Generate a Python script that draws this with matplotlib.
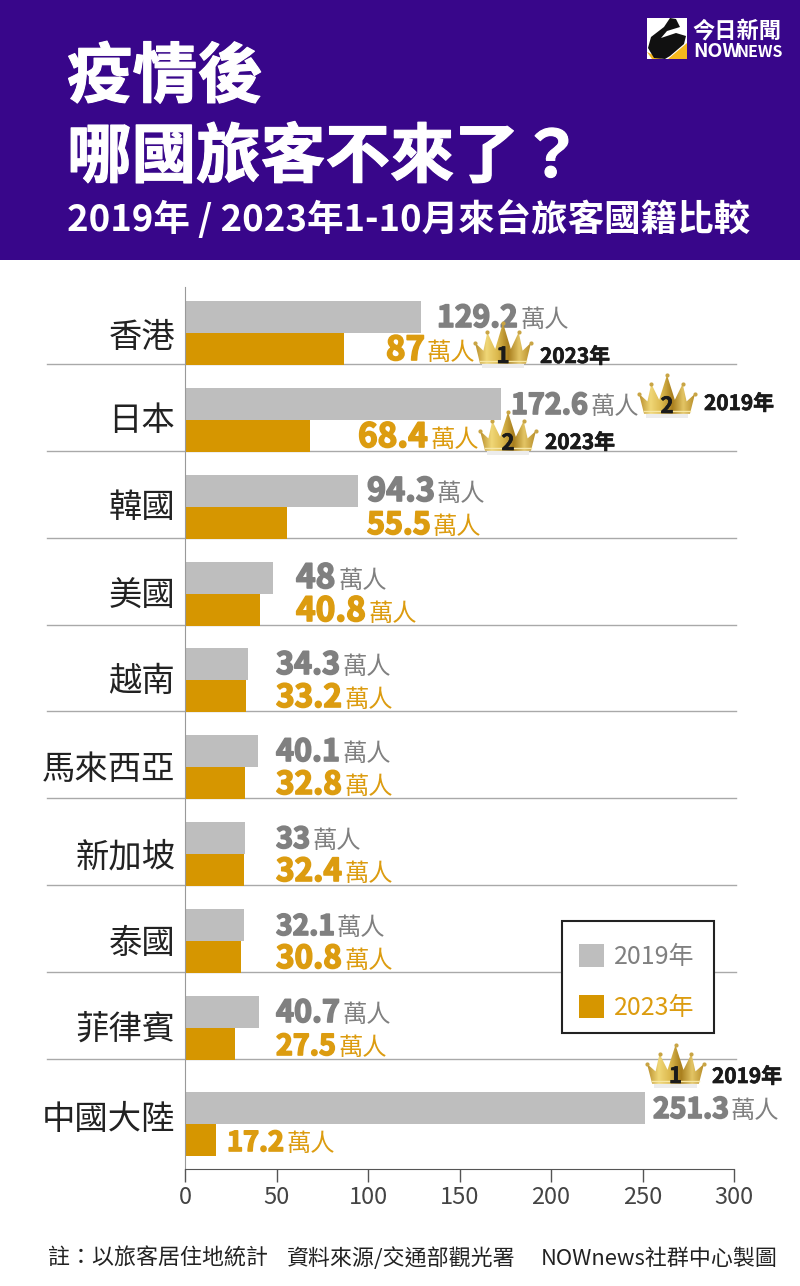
#! /usr/bin/env python3

import numpy as np
import matplotlib
matplotlib.use('Agg')
import matplotlib.pyplot as plt
import matplotlib.patheffects as pe
from matplotlib.colors import LinearSegmentedColormap
from matplotlib.patches import Polygon, Rectangle

plt.rcParams['font.family'] = ['Noto Sans CJK TC', 'DejaVu Sans']

CATEGORIES = ['香港', '日本', '韓國', '美國', '越南', '馬來西亞', '新加坡', '泰國', '菲律賓', '中國大陸']
VALUES_2019 = [129.2, 172.6, 94.3, 48, 34.3, 40.1, 33, 32.1, 40.7, 251.3]
VALUES_2023 = [87, 68.4, 55.5, 40.8, 33.2, 32.8, 32.4, 30.8, 27.5, 17.2]
LABELS_2019 = ['129.2', '172.6', '94.3', '48', '34.3', '40.1', '33', '32.1', '40.7', '251.3']
LABELS_2023 = ['87', '68.4', '55.5', '40.8', '33.2', '32.8', '32.4', '30.8', '27.5', '17.2']
X_TICKS = [0, 50, 100, 150, 200, 250, 300]

# layout, in pixels of the 800x1286 picture
W, H = 800, 1286
AX_LEFT, AX_RIGHT, AX_TOP, AX_BOTTOM = 185, 734, 287, 1169
ROW_MID = [333, 420, 507, 594, 680, 767, 854, 941, 1028, 1124]
NAME_MID = [333, 416, 503, 592, 677, 765, 853, 939, 1025, 1115]
SEPARATORS = [364, 451, 538, 625, 711, 798, 885, 972, 1059]
LABEL_X_2019 = [437, 511, 367, 296, 276, 276, 276, 276, 276, 653]
LABEL_X_2023 = [386, 358, 367, 296, 276, 276, 276, 276, 276, 227]
UNIT_X_2019 = [520, 590, 437, 339, 342, 342, 312, 337, 342, 731]
UNIT_X_2023 = [427, 430, 433, 368, 344, 344, 344, 344, 338, 286]
BAR_H = 31.5

GREY = '#bebebe'
GREY_TEXT = '#808080'
GOLD = '#d69600'
GOLD_TEXT = '#dc9c10'
PURPLE = '#38068a'

gold_map = LinearSegmentedColormap.from_list(
    'crown', ['#b98f2c', '#f0d777', '#dcb94e', '#a97f1e', '#e3c565', '#b88e2a'])

fig = plt.figure(figsize=(W / 100, H / 100), dpi=100)

# background layer in picture pixels, the chart axes sit on top of it
bg = fig.add_axes([0, 0, 1, 1], zorder=0)
bg.set_axis_off()


def value_label(x, unit_x, mid, number, color):
    t = bg.text(x, mid + 11, number, color=color, fontsize=22.5, fontweight='bold',
                va='baseline', ha='left',
                path_effects=[pe.withStroke(linewidth=1.2, foreground=color)])
    # the digits of the original are proportional, fit them to the gap before the unit
    width = t.get_window_extent(fig.canvas.get_renderer()).width
    t.set_fontsize(min(24, 22.5 * (unit_x - x - 2) / width))
    bg.text(unit_x, mid + 11, '萬人', color=color, fontsize=17.5,
            fontweight='light', va='baseline', ha='left')


def crown(left, top, right, bottom, rank):
    w = right - left
    h = bottom - top
    shape = [(0.09, 0.97), (0.0, 0.47), (0.15, 0.66), (0.22, 0.22), (0.36, 0.62),
             (0.50, 0.0), (0.64, 0.62), (0.78, 0.22), (0.85, 0.66), (1.0, 0.47), (0.91, 0.97)]
    pts = [(left + a * w, top + b * h) for a, b in shape]
    # soft shadow under the crown
    bg.add_patch(Rectangle((left + 0.12 * w, bottom - 1), 0.76 * w, 4, color='#ececec', lw=0, zorder=2))
    grad = np.linspace(0, 1, 64).reshape(1, -1)
    im = bg.imshow(grad, cmap=gold_map, extent=(left, right, bottom, top), aspect='auto', zorder=3)
    clip = Polygon(pts, closed=True, transform=bg.transData)
    im.set_clip_path(clip)
    bg.plot([left + 0.09 * w, left + 0.91 * w], [bottom - 4, bottom - 4], color='#f6e7a6', lw=1, zorder=4)
    for a, b in shape[1:10:2]:
        bg.plot(left + a * w, top + b * h, 'o', ms=3, color='#c9a545', mew=0, zorder=4)
    bg.text(left + 0.5 * w, bottom - 2, str(rank), color='#1a1a1a', fontsize=16, fontweight='bold',
            ha='center', va='baseline', zorder=5,
            path_effects=[pe.withStroke(linewidth=0.5, foreground='#1a1a1a')])


def year_note(x, baseline, label):
    bg.text(x, baseline, label, color='#1a1a1a', fontsize=15, fontweight='bold',
            va='baseline', ha='left', zorder=5,
            path_effects=[pe.withStroke(linewidth=0.5, foreground='#1a1a1a')])


# header
title_fx = [pe.withStroke(linewidth=0.8, foreground='white')]
bg.add_patch(Rectangle((0, 0), W, 260, color=PURPLE, lw=0))
bg.text(67, 97, '疫情後', color='white', fontsize=47, fontweight='bold', va='baseline', path_effects=title_fx)
bg.text(67, 177, '哪國旅客不來了？', color='white', fontsize=46.5, fontweight='bold', va='baseline', path_effects=title_fx)
bg.text(67, 231, '2019年 / 2023年1-10月來台旅客國籍比較', color='white', fontsize=26.3,
        fontweight='bold', va='baseline')

# logo
bg.add_patch(Rectangle((647, 18), 40, 41, color='white', lw=0))
bg.add_patch(Polygon([(668, 59), (687, 43), (687, 59)], color='#f5b81e', lw=0))
bg.add_patch(Polygon([(647, 52), (652, 59), (662, 59)], color='#f5b81e', lw=0))
bg.add_patch(Polygon([(648, 48), (651, 37), (664, 27), (670, 18), (676, 19), (680, 27), (667, 31), (661, 38),
                      (676, 33), (686, 36), (684, 44), (670, 56), (665, 59), (654, 58)], color='#111111', lw=0))
bg.text(692, 38, '今日新聞', color='white', fontsize=16, fontweight='bold', va='baseline')
bg.text(693, 57, 'NOW', color='white', fontsize=14, fontweight='bold', va='baseline')
bg.text(737, 57, 'NEWS', color='white', fontsize=11.5, fontweight='bold', va='baseline')

# row separators
for y in SEPARATORS:
    bg.plot([47, 736], [y, y], color='#a9a9a9', lw=1, zorder=1)

for i in range(len(CATEGORIES)):
    value_label(LABEL_X_2019[i], UNIT_X_2019[i], ROW_MID[i] - 17, LABELS_2019[i], GREY_TEXT)
    value_label(LABEL_X_2023[i], UNIT_X_2023[i], ROW_MID[i] + 16, LABELS_2023[i], GOLD_TEXT)

crown(475, 323, 531, 365, 1)
year_note(540, 363, '2023年')
crown(639, 375, 695, 415, 2)
year_note(704, 410, '2019年')
crown(480, 412, 536, 452, 2)
year_note(545, 449, '2023年')
crown(647, 1045, 704, 1085, 1)
year_note(712, 1083, '2019年')

# footer
bg.text(48, 1265, '註：以旅客居住地統計', color='#222222', fontsize=15.8, va='baseline')
bg.text(287, 1265, '資料來源/交通部觀光署', color='#222222', fontsize=15.8, va='baseline')
bg.text(541, 1265, 'NOWnews社群中心製圖', color='#222222', fontsize=15.8, va='baseline')

# legend box, it covers the separator behind it
bg.add_patch(Rectangle((562, 921), 152, 112, facecolor='white', edgecolor='#222222', lw=1.5, zorder=6))

bg.set_xlim(0, W)
bg.set_ylim(H, 0)

# chart
ax = fig.add_axes([AX_LEFT / W, 1 - AX_BOTTOM / H, (AX_RIGHT - AX_LEFT) / W, (AX_BOTTOM - AX_TOP) / H], zorder=1)
ax.patch.set_alpha(0)
mids = np.array(ROW_MID)
bars_2019 = ax.barh(mids - 16, VALUES_2019, height=BAR_H, color=GREY, label='2019年')
bars_2023 = ax.barh(mids + 16, VALUES_2023, height=BAR_H, color=GOLD, label='2023年')
ax.set_xlim(0, 300)
ax.set_ylim(AX_BOTTOM, AX_TOP)

ax.set_xticks(X_TICKS)
ax.tick_params(axis='x', length=9, width=1, color='#555555', pad=3, labelsize=17, labelcolor='#444444')
ax.set_yticks(NAME_MID, CATEGORIES)
ax.tick_params(axis='y', length=0, pad=7, labelsize=24, labelcolor='#222222')
for label in ax.get_yticklabels():
    label.set_fontweight('medium')
for s in ['top', 'right']:
    ax.spines[s].set_visible(False)
ax.spines['left'].set_color('#999999')
ax.spines['bottom'].set_color('#555555')

ax.legend(handles=[bars_2019, bars_2023], loc='upper left',
          bbox_to_anchor=(579, 944), bbox_transform=bg.transData,
          fontsize=18, frameon=False,
          labelcolor=[GREY_TEXT, GOLD_TEXT], borderpad=0, labelspacing=1.0,
          handlelength=1.0, handleheight=1.0, handletextpad=0.4, borderaxespad=0)

fig.savefig('out.png', dpi=100)
